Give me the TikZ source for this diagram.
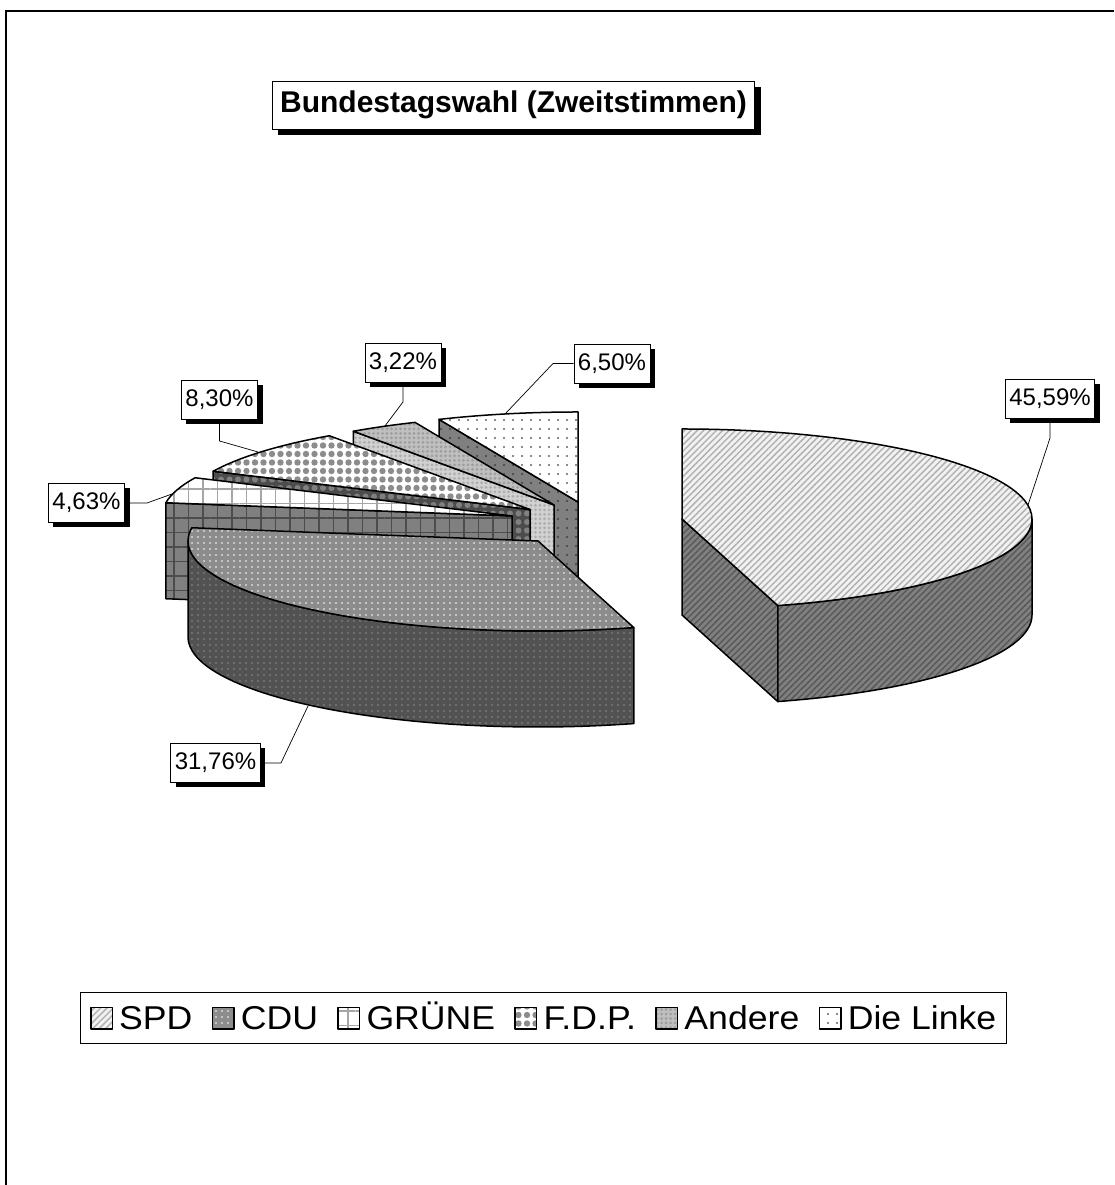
\documentclass[tikz,border=0pt]{standalone}
\usepackage{fontspec}
\setmainfont{Liberation Sans}
\newfontfamily\legendfont{Liberation Sans}[FakeStretch=1.08]
\usetikzlibrary{patterns.meta,shadows,positioning,fit}

\def\pierx{350}
\def\piery{90}
\def\piedepth{96}

\tikzstyle{edge}=[draw=black, line width=1.5pt, line join=round]
\tikzstyle{spd-top}=[edge, preaction={fill=black!5}, pattern={Lines[angle=45,distance=4.5pt,line width=1.5pt]}, pattern color=black!30]
\tikzstyle{spd-side}=[edge, preaction={fill=black!50}, pattern={Lines[angle=45,distance=4.5pt,line width=1.5pt]}, pattern color=black!65]
\tikzstyle{cdu-top}=[edge, preaction={fill=black!45}, pattern={Dots[radius=0.9pt,distance=6pt]}, pattern color=white]
\tikzstyle{cdu-side}=[edge, preaction={fill=black!68}, pattern={Dots[radius=0.8pt,distance=6pt]}, pattern color=black!45]
\tikzstyle{gruene-top}=[edge, preaction={fill=white}, pattern={Hatch[angle=0,distance=14.5pt,line width=1.2pt]}, pattern color=black!35]
\tikzstyle{gruene-side}=[edge, preaction={fill=black!50}, pattern={Hatch[angle=0,distance=14.5pt,line width=1.2pt]}, pattern color=black!70]
\tikzstyle{fdp-top}=[edge, preaction={fill=white}, pattern={Dots[radius=3.2pt,distance=8.5pt]}, pattern color=black!45]
\tikzstyle{fdp-side}=[edge, preaction={fill=black!70}, pattern={Dots[radius=3pt,distance=8.5pt]}, pattern color=black!50]
\tikzstyle{andere-top}=[edge, preaction={fill=black!25}, pattern={Dots[radius=1.5pt,distance=4.5pt]}, pattern color=black!38]
\tikzstyle{andere-side}=[edge, preaction={fill=black!18}, pattern={Dots[radius=1.5pt,distance=4.5pt]}, pattern color=black!32]
\tikzstyle{linke-top}=[edge, preaction={fill=white}, pattern={Dots[radius=1.1pt,distance=9pt]}, pattern color=black!60]
\tikzstyle{linke-side}=[edge, preaction={fill=black!50}, pattern={Dots[radius=1.1pt,distance=9pt]}, pattern color=black!75]
\tikzstyle{pct}=[draw, fill=white, line width=0.8pt, inner xsep=4pt, minimum height=39pt,
  font=\fontsize{24}{24}\selectfont,
  drop shadow={shadow xshift=5pt, shadow yshift=-5pt, opacity=1, fill=black}]
\tikzstyle{leader}=[draw, line width=0.7pt]
\tikzstyle{legmark}=[minimum size=21.5pt, inner sep=0pt, line width=1pt]
\tikzstyle{legtext}=[inner sep=0pt, text height=23.6pt, text depth=0pt, font=\legendfont\fontsize{33}{33}\selectfont]

\begin{document}
\begin{tikzpicture}[x=1pt, y=1pt]
  \useasboundingbox (0,0) rectangle (1114,1185);
  \draw[line width=2pt] (6,0) -- (6,1174) -- (1114,1174);

  \node[draw, fill=white, line width=0.8pt, inner xsep=8pt, minimum height=48pt,
    font=\bfseries\fontsize{30}{30}\selectfont,
    drop shadow={shadow xshift=6pt, shadow yshift=-6pt, opacity=1, fill=black}]
    (title) at (513.5,1080) {Bundestagswahl (Zweitstimmen)};

  % small slices, back to front
  \foreach \cx/\cy/\ta/\tb/\sside/\stop in {578/683/90/113.40/linke-side/linke-top,
      554/680/113.40/124.99/andere-side/andere-top,
      530/675.5/124.99/154.87/fdp-side/fdp-top,
      512/669/154.87/171.54/gruene-side/gruene-top} {
    \draw[\sside] (\cx,\cy) -- ++({\pierx*cos(\tb)},{\piery*sin(\tb)}) -- ++(0,-\piedepth)
      -- ++({-\pierx*cos(\tb)},{-\piery*sin(\tb)}) -- cycle;
    \draw[\stop] (\cx,\cy) -- ++({\pierx*cos(\tb)},{\piery*sin(\tb)})
      arc[start angle=\tb, end angle=\ta, x radius=\pierx pt, y radius=\piery pt] -- cycle;
  }

  % CDU
  \draw[cdu-side] (188,644) arc[start angle=180, end angle=285.88, x radius=\pierx pt, y radius=\piery pt]
    -- ++(0,-\piedepth) arc[start angle=285.88, end angle=180, x radius=\pierx pt, y radius=\piery pt] -- cycle;
  \draw[cdu-top] (538,644) -- ++({\pierx*cos(171.54)},{\piery*sin(171.54)})
    arc[start angle=171.54, end angle=285.88, x radius=\pierx pt, y radius=\piery pt] -- cycle;

  % SPD
  \draw[spd-side] (682,666) -- ++({\pierx*cos(-74.12)},{\piery*sin(-74.12)}) -- ++(0,-\piedepth)
    -- (682,570) -- cycle;
  \draw[spd-side] (682,666) ++({\pierx*cos(-74.12)},{\piery*sin(-74.12)})
    arc[start angle=-74.12, end angle=0, x radius=\pierx pt, y radius=\piery pt] -- ++(0,-\piedepth)
    arc[start angle=0, end angle=-74.12, x radius=\pierx pt, y radius=\piery pt] -- cycle;
  \draw[spd-top] (682,666) -- (682,756)
    arc[start angle=90, end angle=-74.12, x radius=\pierx pt, y radius=\piery pt] -- cycle;

  % labels
  \node[pct] (l4559) at (1050,786) {45,59\%};
  \node[pct] (l650) at (612,821.5) {6,50\%};
  \node[pct] (l322) at (403,822.5) {3,22\%};
  \node[pct] (l830) at (219.5,785) {8,30\%};
  \node[pct] (l463) at (86.5,682) {4,63\%};
  \node[pct] (l3176) at (215.5,422) {31,76\%};

  \coordinate (k4559) at (1050,747);  \coordinate (e4559) at (1028,680);
  \coordinate (k650) at (553,821.5);  \coordinate (e650) at (506,772);
  \coordinate (k322) at (403,783);    \coordinate (e322) at (385,759);
  \coordinate (k830) at (219.5,744);  \coordinate (e830) at (258,733);
  \coordinate (k463) at (147,682);    \coordinate (e463) at (172,691);
  \coordinate (k3176) at (281,422);   \coordinate (e3176) at (308,479);
  \foreach \l in {4559,650,322,830,463,3176}
    \draw[leader] (l\l) -- (k\l) -- (e\l);

  % legend
  \node[legmark, spd-top] (mspd) at (101.5,166.8) {};
  \node[legtext, right=6pt of mspd] (tspd) {SPD};
  \node[legmark, cdu-top, right=19pt of tspd] (mcdu) {};
  \node[legtext, right=6pt of mcdu] (tcdu) {CDU};
  \node[legmark, gruene-top, right=19pt of tcdu] (mgruene) {};
  \node[legtext, right=6pt of mgruene] (tgruene) {GRÜNE};
  \node[legmark, fdp-top, right=19pt of tgruene] (mfdp) {};
  \node[legtext, right=6pt of mfdp] (tfdp) {F.D.P.};
  \node[legmark, andere-top, right=19pt of tfdp] (mandere) {};
  \node[legtext, right=6pt of mandere] (tandere) {Andere};
  \node[legmark, linke-top, right=19pt of tandere] (mlinke) {};
  \node[legtext, right=6pt of mlinke] (tlinke) {Die Linke};
  \node[draw, line width=1pt, inner xsep=10pt, inner ysep=13.5pt, fit=(mspd)(tlinke)] (legend) {};
\end{tikzpicture}
\end{document}
